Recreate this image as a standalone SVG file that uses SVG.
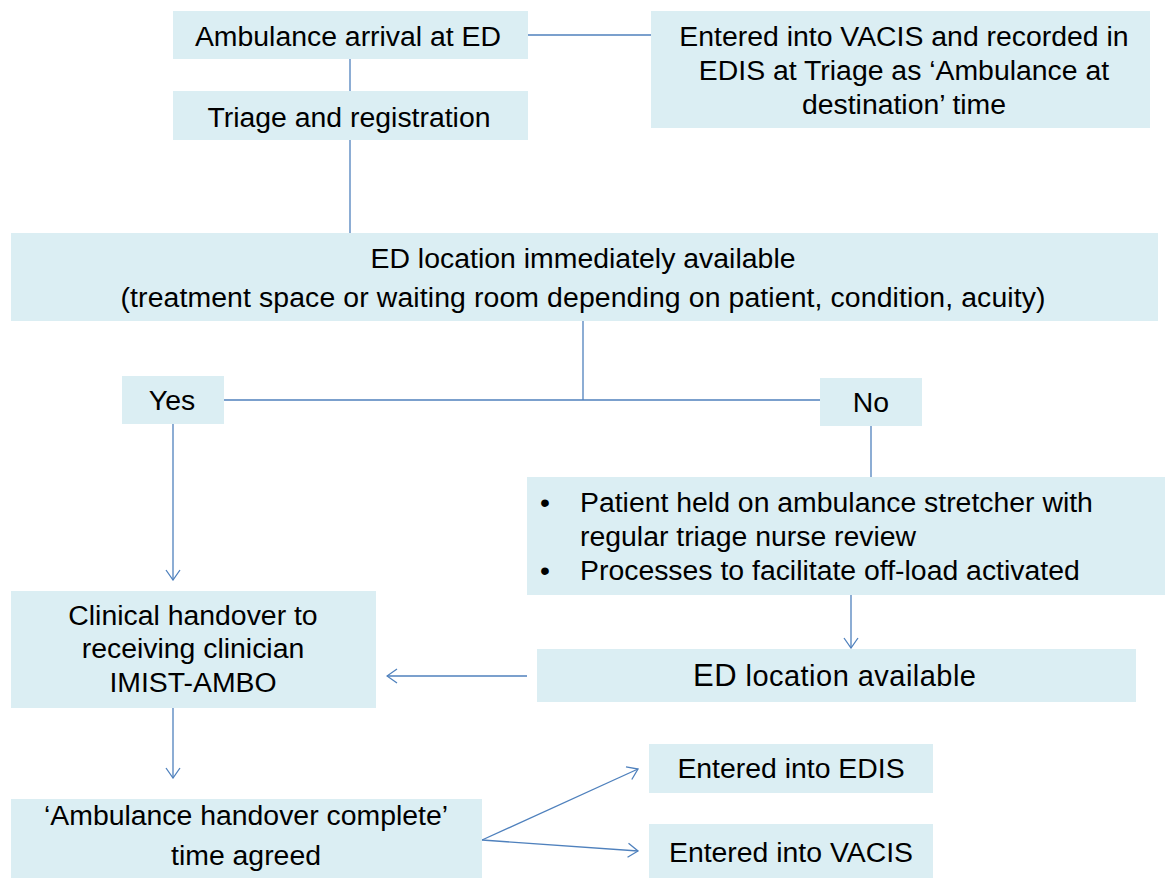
<svg xmlns="http://www.w3.org/2000/svg" width="1166" height="878" viewBox="0 0 1166 878">
<defs>
<marker id="arr" viewBox="0 0 12 16" refX="11" refY="8" markerWidth="12" markerHeight="16" markerUnits="userSpaceOnUse" orient="auto">
<path d="M1,1 L11,8 L1,15" fill="none" stroke="#4F81BD" stroke-width="1.3"/>
</marker>
</defs>
<style>
.box{fill:#DBEEF3;}
.t{font-family:"Liberation Sans",Arial,sans-serif;font-size:28.4px;fill:#000;text-anchor:middle;}
.tl{font-family:"Liberation Sans",Arial,sans-serif;font-size:28.4px;fill:#000;}
.c{fill:none;stroke:#4F81BD;stroke-width:1.3;}
.a{fill:none;stroke:#4F81BD;stroke-width:1.3;marker-end:url(#arr);}
</style>
<rect width="1166" height="878" fill="#fff"/>
<g id="connectors">
<line class="c" x1="527" y1="35" x2="651" y2="35"/>
<line class="c" x1="350" y1="59" x2="350" y2="91"/>
<line class="c" x1="350" y1="140" x2="350" y2="233"/>
<line class="c" x1="583" y1="321" x2="583" y2="400"/>
<line class="c" x1="224" y1="400" x2="820" y2="400"/>
<line class="a" x1="173" y1="424" x2="173" y2="580"/>
<line class="c" x1="871" y1="426" x2="871" y2="477"/>
<line class="a" x1="851" y1="595" x2="851" y2="648"/>
<line class="a" x1="527" y1="676" x2="387" y2="676"/>
<line class="a" x1="173" y1="708" x2="173" y2="778"/>
<line class="a" x1="482" y1="840" x2="638" y2="769"/>
<line class="a" x1="482" y1="840" x2="638" y2="851"/>
</g>
<g id="n-arrival">
<rect class="box" x="173" y="11" width="355" height="48"/>
<text class="t" x="348" y="46">Ambulance arrival at ED</text>
</g>
<g id="n-triage">
<rect class="box" x="173" y="91" width="355" height="49"/>
<text class="t" x="349" y="127">Triage and registration</text>
</g>
<g id="n-vacis-edis">
<rect class="box" x="651" y="11" width="499" height="117"/>
<text class="t" x="904" y="46">Entered into VACIS and recorded in</text>
<text class="t" x="904" y="80">EDIS at Triage as ‘Ambulance at</text>
<text class="t" x="904" y="114">destination’ time</text>
</g>
<g id="n-location">
<rect class="box" x="11" y="233" width="1147" height="88"/>
<text class="t" x="583" y="268" textLength="425">ED location immediately available</text>
<text class="t" x="583" y="307" textLength="925">(treatment space or waiting room depending on patient, condition, acuity)</text>
</g>
<g id="n-yes">
<rect class="box" x="122" y="376" width="102" height="48"/>
<text class="t" x="172" y="410">Yes</text>
</g>
<g id="n-no">
<rect class="box" x="820" y="378" width="102" height="48"/>
<text class="t" x="871" y="412">No</text>
</g>
<g id="n-held">
<rect class="box" x="527" y="477" width="638" height="118"/>
<text class="tl" x="540" y="512">•</text>
<text class="tl" x="580" y="512">Patient held on ambulance stretcher with</text>
<text class="tl" x="580" y="546">regular triage nurse review</text>
<text class="tl" x="540" y="580">•</text>
<text class="tl" x="580" y="580">Processes to facilitate off-load activated</text>
</g>
<g id="n-available">
<rect class="box" x="537" y="649" width="599" height="53"/>
<text class="tl" x="693" y="686" textLength="283"><tspan style="font-size:31px">ED</tspan><tspan style="font-size:29px"> location available</tspan></text>
</g>
<g id="n-clinical">
<rect class="box" x="11" y="591" width="365" height="117"/>
<text class="t" x="193" y="625">Clinical handover to</text>
<text class="t" x="193" y="658">receiving clinician</text>
<text class="t" x="193" y="692">IMIST-AMBO</text>
</g>
<g id="n-complete">
<rect class="box" x="11" y="799" width="471" height="79"/>
<text class="t" x="246" y="825">‘Ambulance handover complete’</text>
<text class="t" x="246" y="865">time agreed</text>
</g>
<g id="n-edis">
<rect class="box" x="649" y="744" width="284" height="49"/>
<text class="t" x="791" y="778">Entered into EDIS</text>
</g>
<g id="n-vacis">
<rect class="box" x="649" y="824" width="284" height="54"/>
<text class="t" x="791" y="862">Entered into VACIS</text>
</g>
</svg>
